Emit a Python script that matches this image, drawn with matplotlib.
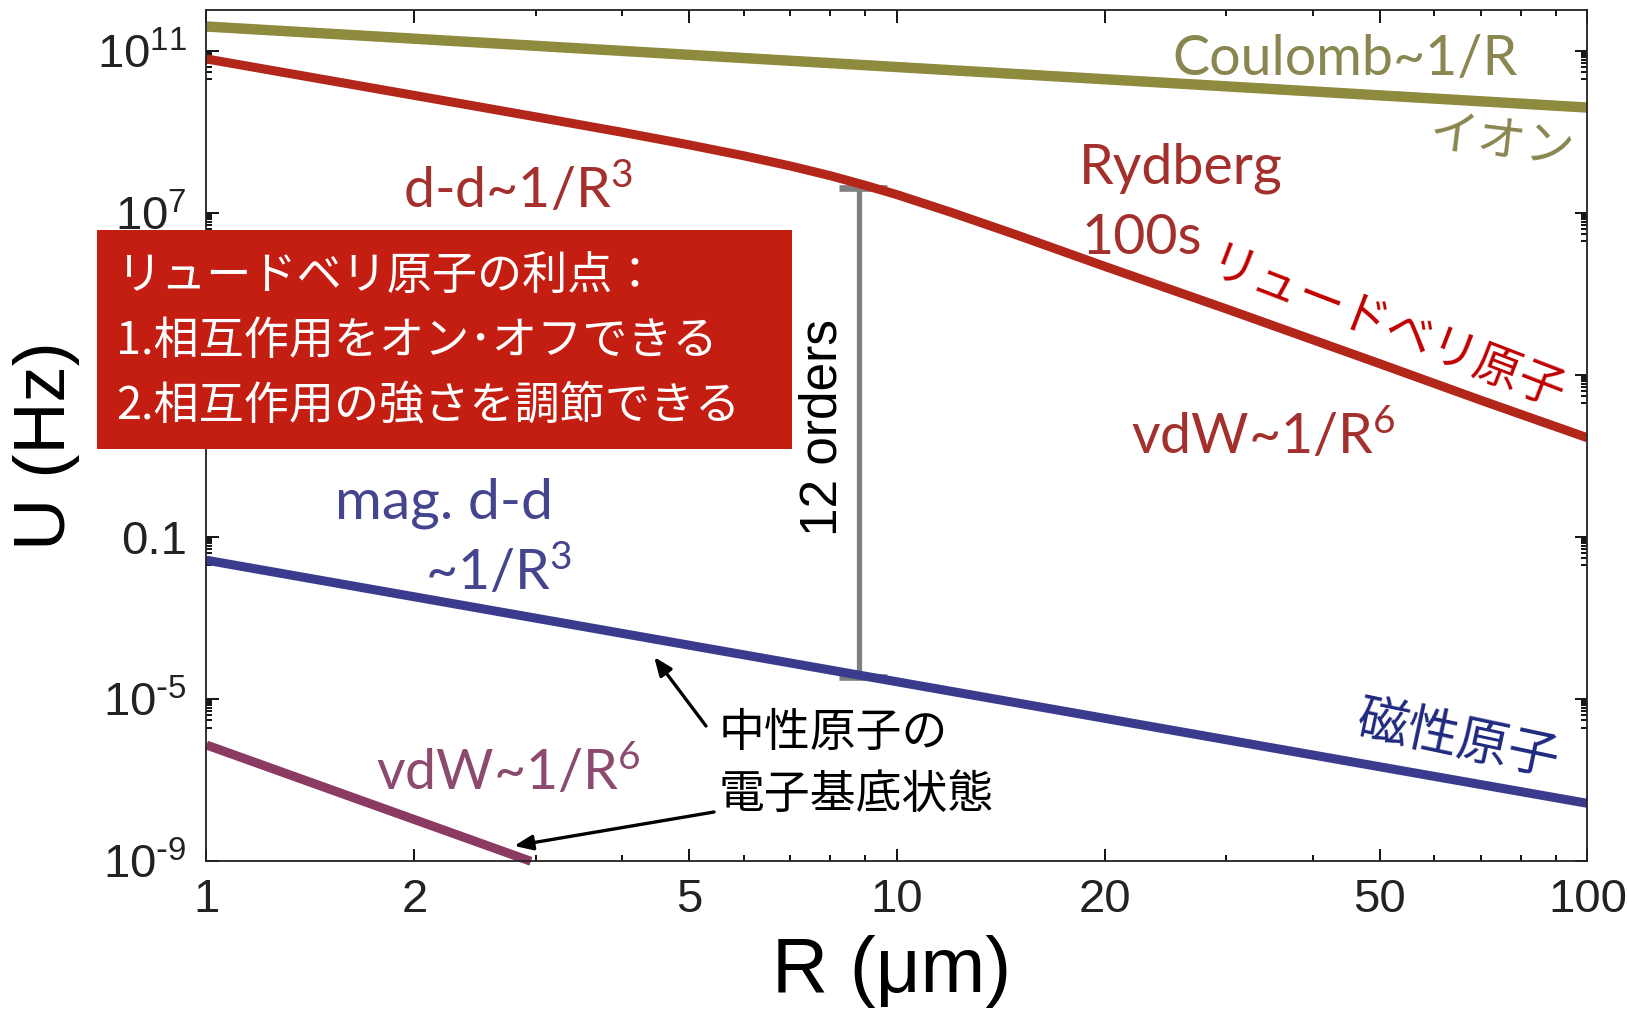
import numpy as np
import matplotlib
matplotlib.use('Agg')
import matplotlib.pyplot as plt
from matplotlib.patches import Rectangle
from matplotlib.ticker import FixedLocator, FixedFormatter, NullFormatter

plt.rcParams['mathtext.default'] = 'regular'

# Interaction energy U (Hz) vs separation R (um), log10 of U
r_coulomb = [1, 100]
logu_coulomb = [11.6, 9.6]

r_rydberg = [1, 2, 3, 4, 5, 6, 7, 8, 9, 10, 12, 15, 20, 30, 50, 70, 100]
logu_rydberg = [10.8, 9.90, 9.37, 8.99, 8.68, 8.41, 8.16, 7.92, 7.68, 7.45,
                7.01, 6.44, 5.68, 4.63, 3.28, 2.38, 1.45]

r_magnetic = [1, 100]
logu_magnetic = [-1.57, -7.57]

r_vdw = [1, 2.95]
logu_vdw = [-6.13, -9.0]

# the "12 orders" gap bar
r_gap = 8.8
r_gap_cap = [8.23, 9.67]
logu_gap = [7.62, -4.45]

x_ticks = [1, 2, 5, 10, 20, 50, 100]
x_labels = ['1', '2', '5', '10', '20', '50', '100']
x_minor = [3, 4, 6, 7, 8, 9, 30, 40, 60, 70, 80, 90]
y_ticks = [1e-9, 1e-5, 1e-1, 1e3, 1e7, 1e11]
# 10^3 sits behind the box, so no label there
y_labels = [r'$10^{\text{-}9}$', r'$10^{\text{-}5}$', '0.1', '', '$10^{7}$', '$10^{11}$']

c_coulomb = '#8e8a3e'
c_rydberg = '#b3261a'
c_magnetic = '#3b3b8e'
c_vdw = '#8b3a62'

W, H = 1627, 1014
fig = plt.figure(figsize=(W / 100, H / 100), dpi=100)
ax = fig.add_axes([206.5 / W, 1 - 861.3 / H, 1381 / W, 851 / H])


def px(x, y):
    return (x / W, 1 - y / H)


ax.plot(r_coulomb, 10 ** np.array(logu_coulomb), color=c_coulomb, lw=7.5, solid_capstyle='butt')
ax.plot(r_rydberg, 10 ** np.array(logu_rydberg), color=c_rydberg, lw=6.5, solid_capstyle='butt')
ax.plot(r_magnetic, 10 ** np.array(logu_magnetic), color=c_magnetic, lw=6.5, solid_capstyle='butt')
ax.plot(r_vdw, 10 ** np.array(logu_vdw), color=c_vdw, lw=6.5, solid_capstyle='butt', clip_on=False)

gap_top, gap_bot = 10 ** logu_gap[0], 10 ** logu_gap[1]
ax.plot([r_gap, r_gap], [gap_top, gap_bot], color='#808080', lw=3.8, zorder=1)
ax.plot(r_gap_cap, [gap_top, gap_top], color='#808080', lw=4.8, zorder=1, solid_capstyle='butt')
ax.plot(r_gap_cap, [gap_bot, gap_bot], color='#808080', lw=4.8, zorder=1, solid_capstyle='butt')

ax.set_xscale('log')
ax.set_yscale('log')
ax.set_xlim(1, 100)
ax.set_ylim(1e-9, 1e12)

tick_font = ['Liberation Sans Narrow', 'Liberation Sans']
ax.xaxis.set_major_locator(FixedLocator(x_ticks))
ax.xaxis.set_major_formatter(FixedFormatter(x_labels))
ax.xaxis.set_minor_locator(FixedLocator(x_minor))
ax.xaxis.set_minor_formatter(NullFormatter())
y_minor = [k * t / 10 for t in y_ticks for k in range(2, 10)]
ax.yaxis.set_major_locator(FixedLocator(y_ticks))
ax.yaxis.set_major_formatter(FixedFormatter(y_labels))
ax.yaxis.set_minor_locator(FixedLocator(y_minor))
ax.yaxis.set_minor_formatter(NullFormatter())
ax.tick_params(which='both', direction='in', top=True, right=True, width=1.3)
ax.tick_params(which='major', length=9)
ax.tick_params(which='minor', length=4.5)
ax.tick_params(axis='x', which='major', pad=12)
ax.tick_params(axis='y', which='major', pad=14)
for lab in ax.get_xticklabels() + ax.get_yticklabels():
    lab.set_family(tick_font)
    lab.set_fontsize(34)
    lab.set_color('#222222')
for s in ax.spines.values():
    s.set_linewidth(1.3)
    s.set_color('#222222')

fig.text(*px(47, 446), 'U (Hz)', rotation=90, ha='center', va='center',
         fontsize=52, family=tick_font)
fig.text(*px(892, 972), 'R (μm)', ha='center', va='center',
         fontsize=56, family=tick_font)

lab_font = ['Lato', 'DejaVu Sans']
jp_font = ['Noto Sans CJK JP', 'DejaVu Sans']

fig.text(*px(1172, 60), 'Coulomb~1/R', color='#8a8650', fontsize=40, family=lab_font, va='center')
fig.text(*px(1502, 142), 'イオン', color='#8a8650', fontsize=35, family=jp_font,
         va='center', ha='center', rotation=-7)
fig.text(*px(1079, 168), 'Rydberg', color='#a3302c', fontsize=40, family=lab_font, va='center')
fig.text(*px(1082, 238), '100s', color='#a3302c', fontsize=40, family=lab_font, va='center')
fig.text(*px(1386, 331), 'リュードベリ原子', color='#c00000', fontsize=34, family=jp_font,
         va='center', ha='center', rotation=-21)
fig.text(*px(1131, 436), 'vdW~1/R$^6$', color='#a3302c', fontsize=40, family=lab_font, va='center')
fig.text(*px(403, 190), 'd-d~1/R$^3$', color='#a3302c', fontsize=40, family=lab_font, va='center')
fig.text(*px(335, 503), 'mag. d-d', color='#45458f', fontsize=41, family=lab_font, va='center')
fig.text(*px(425, 572), '~1/R$^3$', color='#45458f', fontsize=40, family=lab_font, va='center')
fig.text(*px(1458, 740), '磁性原子', color='#1f2a80', fontsize=37, family=jp_font,
         va='center', ha='center', rotation=-12)
fig.text(*px(376, 772), 'vdW~1/R$^6$', color='#8b4a6e', fontsize=40, family=lab_font, va='center')
fig.text(*px(823, 427), '12 orders', rotation=90, ha='center', va='center',
         fontsize=37, family=['Liberation Sans'])

fig.text(*px(719, 733), '中性原子の', fontsize=33, family=jp_font, va='center')
fig.text(*px(719, 795), '電子基底状態', fontsize=33, family=jp_font, va='center')

arrow = dict(arrowstyle='-|>,head_length=1.1,head_width=0.45', color='black', lw=2.4,
             shrinkA=0, shrinkB=0)
ax.annotate('', xy=(4.45, 10 ** -3.96), xycoords='data',
            xytext=px(706, 726), textcoords='figure fraction', arrowprops=arrow)
ax.annotate('', xy=(2.79, 10 ** -8.62), xycoords='data',
            xytext=px(714, 812), textcoords='figure fraction', arrowprops=arrow)

# advantages box
x0, y0 = px(96.5, 449)
x1, y1 = px(792, 230)
fig.patches.append(Rectangle((x0, y0), x1 - x0, y1 - y0, transform=fig.transFigure,
                             facecolor='#c41e12', edgecolor='none', zorder=5))
box_lines = ['リュードベリ原子の利点：', '1.相互作用をオン･オフできる', '2.相互作用の強さを調節できる']
for i, line in enumerate(box_lines):
    fig.text(*px(116, 276 + 65 * i), line, color='white', fontsize=32.5, family=jp_font,
             va='center', zorder=6)

fig.savefig('out.png', dpi=100)
